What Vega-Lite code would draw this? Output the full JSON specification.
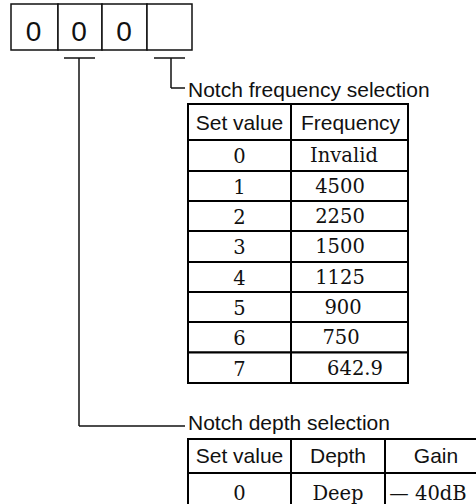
{
  "$schema": "https://vega.github.io/schema/vega-lite/v6.json",
  "width": 476,
  "height": 504,
  "padding": 0,
  "autosize": {"type": "none"},
  "background": "white",
  "config": {"view": {"stroke": null}},
  "datasets": {
    "cells": [
      {"part": "box", "x": 11, "x2": 58, "y": 4, "y2": 50},
      {"part": "box", "x": 58, "x2": 102, "y": 4, "y2": 50},
      {"part": "box", "x": 102, "x2": 147, "y": 4, "y2": 50},
      {"part": "box", "x": 147, "x2": 192, "y": 4, "y2": 50},
      {"part": "table", "x": 188, "x2": 291, "y": 104, "y2": 140},
      {"part": "table", "x": 291, "x2": 408, "y": 104, "y2": 140},
      {"part": "table", "x": 188, "x2": 291, "y": 140, "y2": 171},
      {"part": "table", "x": 291, "x2": 408, "y": 140, "y2": 171},
      {"part": "table", "x": 188, "x2": 291, "y": 171, "y2": 201},
      {"part": "table", "x": 291, "x2": 408, "y": 171, "y2": 201},
      {"part": "table", "x": 188, "x2": 291, "y": 201, "y2": 231},
      {"part": "table", "x": 291, "x2": 408, "y": 201, "y2": 231},
      {"part": "table", "x": 188, "x2": 291, "y": 231, "y2": 262},
      {"part": "table", "x": 291, "x2": 408, "y": 231, "y2": 262},
      {"part": "table", "x": 188, "x2": 291, "y": 262, "y2": 292},
      {"part": "table", "x": 291, "x2": 408, "y": 262, "y2": 292},
      {"part": "table", "x": 188, "x2": 291, "y": 292, "y2": 322},
      {"part": "table", "x": 291, "x2": 408, "y": 292, "y2": 322},
      {"part": "table", "x": 188, "x2": 291, "y": 322, "y2": 352.5},
      {"part": "table", "x": 291, "x2": 408, "y": 322, "y2": 352.5},
      {"part": "table", "x": 188, "x2": 291, "y": 352.5, "y2": 383},
      {"part": "table", "x": 291, "x2": 408, "y": 352.5, "y2": 383},
      {"part": "table", "x": 188, "x2": 291, "y": 439, "y2": 473},
      {"part": "table", "x": 291, "x2": 385, "y": 439, "y2": 473},
      {"part": "table", "x": 385, "x2": 487, "y": 439, "y2": 473},
      {"part": "table", "x": 188, "x2": 291, "y": 473, "y2": 512},
      {"part": "table", "x": 291, "x2": 385, "y": 473, "y2": 512},
      {"part": "table", "x": 385, "x2": 487, "y": 473, "y2": 512}
    ],
    "links": [
      {"x": 64, "x2": 95, "y": 58, "y2": 58},
      {"x": 79, "x2": 79, "y": 58, "y2": 426},
      {"x": 79, "x2": 185, "y": 426, "y2": 426},
      {"x": 154, "x2": 185, "y": 58, "y2": 58},
      {"x": 171, "x2": 171, "y": 58, "y2": 88},
      {"x": 171, "x2": 185, "y": 88, "y2": 88}
    ],
    "texts": [
      {"kind": "digit", "text": "0", "x": 33.5, "y": 41},
      {"kind": "digit", "text": "0", "x": 79, "y": 41},
      {"kind": "digit", "text": "0", "x": 124, "y": 41},
      {"kind": "label", "text": "Notch frequency selection", "x": 188, "y": 97},
      {"kind": "label", "text": "Notch depth selection", "x": 188, "y": 430},
      {"kind": "header", "text": "Set value", "x": 239.5, "y": 130},
      {"kind": "header", "text": "Frequency", "x": 350.5, "y": 130},
      {"kind": "header", "text": "Set value", "x": 239.5, "y": 462.5},
      {"kind": "header", "text": "Depth", "x": 338, "y": 462.5},
      {"kind": "header", "text": "Gain", "x": 436, "y": 462.5},
      {"kind": "value", "text": "0", "x": 239.5, "y": 163},
      {"kind": "value", "text": "Invalid", "x": 344, "y": 162},
      {"kind": "value", "text": "1", "x": 239.5, "y": 194},
      {"kind": "value", "text": "4500", "x": 340, "y": 193},
      {"kind": "value", "text": "2", "x": 239.5, "y": 224},
      {"kind": "value", "text": "2250", "x": 340, "y": 223},
      {"kind": "value", "text": "3", "x": 239.5, "y": 254},
      {"kind": "value", "text": "1500", "x": 340, "y": 253},
      {"kind": "value", "text": "4", "x": 239.5, "y": 285},
      {"kind": "value", "text": "1125", "x": 340, "y": 284},
      {"kind": "value", "text": "5", "x": 239.5, "y": 315},
      {"kind": "value", "text": "900", "x": 343, "y": 314},
      {"kind": "value", "text": "6", "x": 239.5, "y": 345},
      {"kind": "value", "text": "750", "x": 341, "y": 344},
      {"kind": "value", "text": "7", "x": 239.5, "y": 375.5},
      {"kind": "value", "text": "642.9", "x": 355, "y": 374.5},
      {"kind": "value", "text": "0", "x": 239.5, "y": 500},
      {"kind": "value", "text": "Deep", "x": 338, "y": 500},
      {"kind": "value", "text": "— 40dB", "x": 428, "y": 500}
    ]
  },
  "layer": [
    {
      "data": {"name": "cells"},
      "transform": [{"filter": "datum.part === 'box'"}],
      "mark": {"type": "rect", "fill": "white", "stroke": "#111111", "strokeWidth": 1.5},
      "encoding": {
        "x": {"field": "x", "type": "quantitative", "scale": {"domain": [0, 476], "nice": false, "zero": false}, "axis": null},
        "x2": {"field": "x2"},
        "y": {"field": "y", "type": "quantitative", "scale": {"domain": [0, 504], "nice": false, "zero": false, "reverse": true}, "axis": null},
        "y2": {"field": "y2"}
      }
    },
    {
      "data": {"name": "cells"},
      "transform": [{"filter": "datum.part === 'table'"}],
      "mark": {"type": "rect", "fill": "white", "stroke": "#000000", "strokeWidth": 2},
      "encoding": {
        "x": {"field": "x", "type": "quantitative"},
        "x2": {"field": "x2"},
        "y": {"field": "y", "type": "quantitative"},
        "y2": {"field": "y2"}
      }
    },
    {
      "data": {"name": "links"},
      "mark": {"type": "rule", "stroke": "#111111", "strokeWidth": 1.5},
      "encoding": {
        "x": {"field": "x", "type": "quantitative"},
        "x2": {"field": "x2"},
        "y": {"field": "y", "type": "quantitative"},
        "y2": {"field": "y2"}
      }
    },
    {
      "data": {"name": "texts"},
      "transform": [{"filter": "datum.kind === 'digit'"}],
      "mark": {"type": "text", "align": "center", "baseline": "alphabetic", "font": "Liberation Sans", "fontSize": 28, "color": "#111111"},
      "encoding": {
        "x": {"field": "x", "type": "quantitative"},
        "y": {"field": "y", "type": "quantitative"},
        "text": {"field": "text"}
      }
    },
    {
      "data": {"name": "texts"},
      "transform": [{"filter": "datum.kind === 'label'"}],
      "mark": {"type": "text", "align": "left", "baseline": "alphabetic", "font": "Liberation Sans", "fontSize": 21, "color": "#111111"},
      "encoding": {
        "x": {"field": "x", "type": "quantitative"},
        "y": {"field": "y", "type": "quantitative"},
        "text": {"field": "text"}
      }
    },
    {
      "data": {"name": "texts"},
      "transform": [{"filter": "datum.kind === 'header'"}],
      "mark": {"type": "text", "align": "center", "baseline": "alphabetic", "font": "Liberation Sans", "fontSize": 21, "color": "#111111"},
      "encoding": {
        "x": {"field": "x", "type": "quantitative"},
        "y": {"field": "y", "type": "quantitative"},
        "text": {"field": "text"}
      }
    },
    {
      "data": {"name": "texts"},
      "transform": [{"filter": "datum.kind === 'value'"}],
      "mark": {"type": "text", "align": "center", "baseline": "alphabetic", "font": "DejaVu Serif", "fontSize": 19.5, "color": "#111111"},
      "encoding": {
        "x": {"field": "x", "type": "quantitative"},
        "y": {"field": "y", "type": "quantitative"},
        "text": {"field": "text"}
      }
    }
  ]
}
